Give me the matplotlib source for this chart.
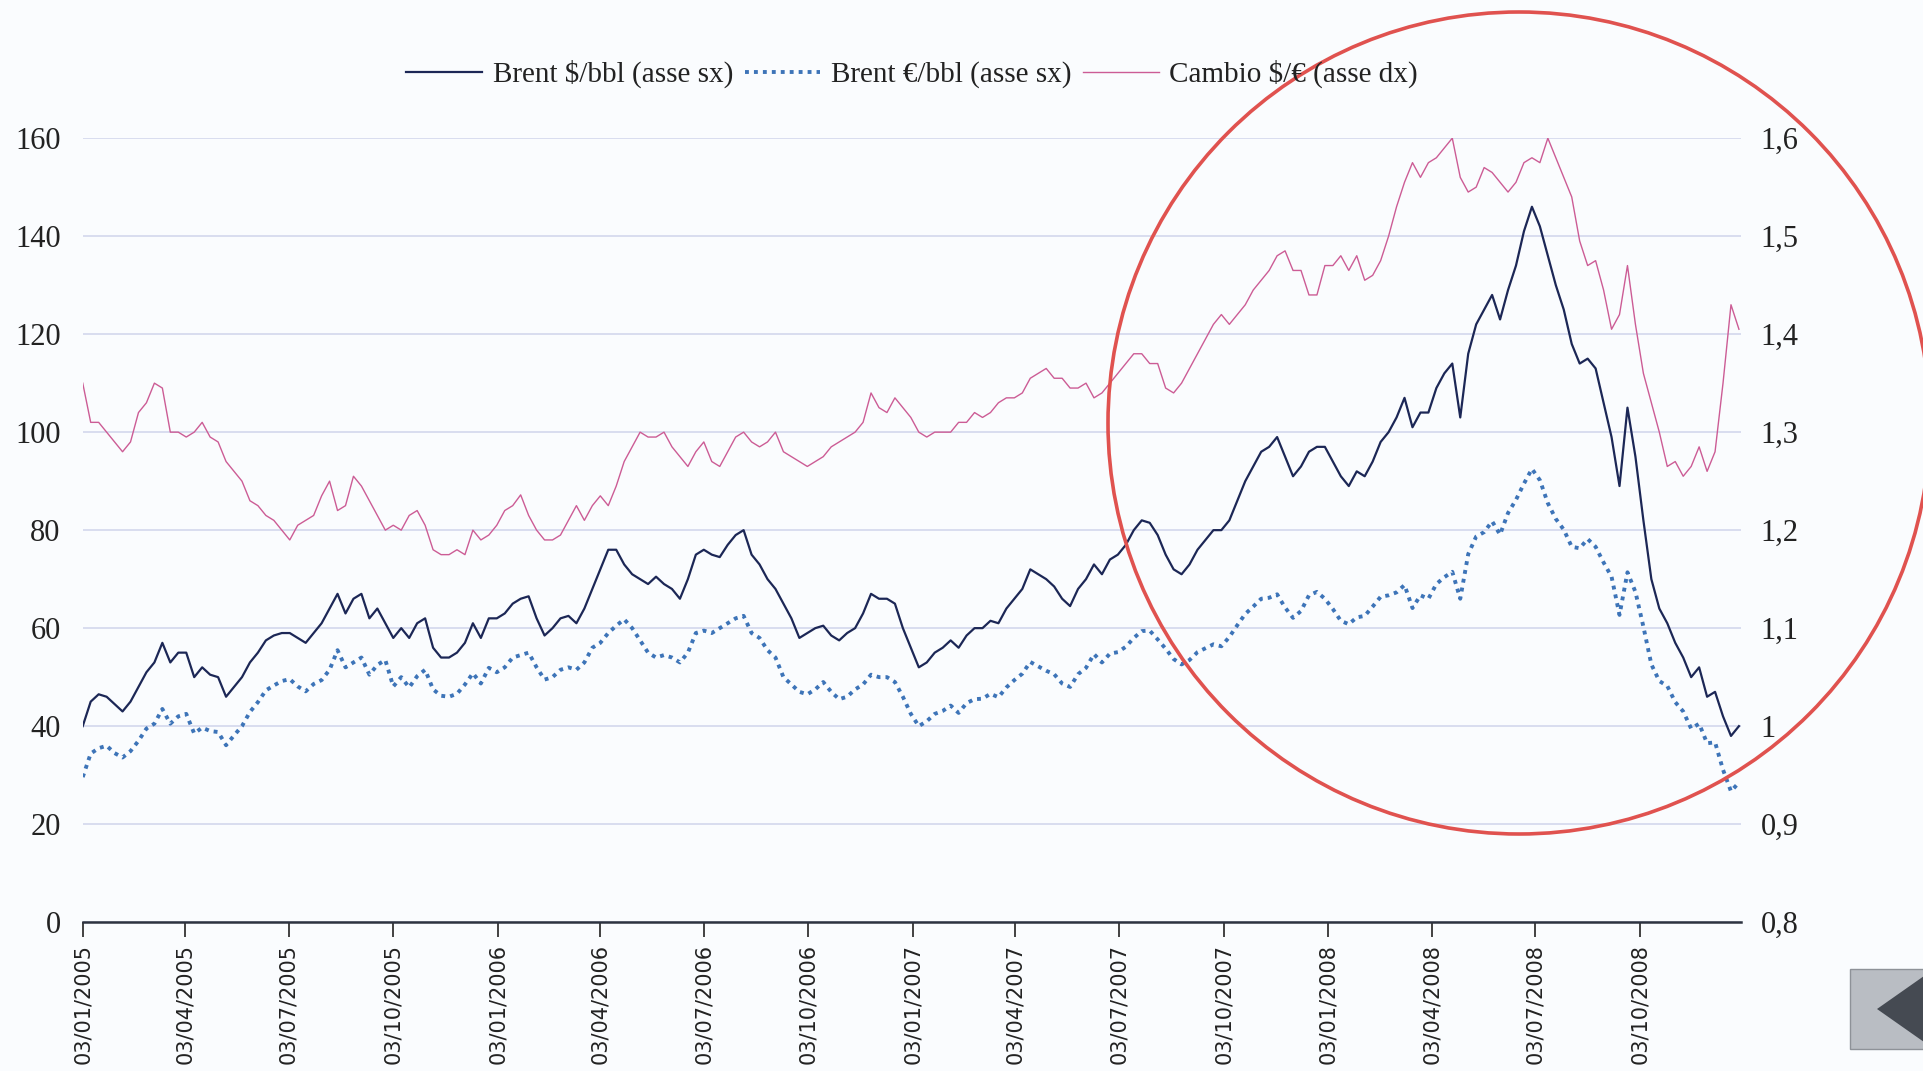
import matplotlib
matplotlib.use("Agg")
import matplotlib.pyplot as plt
from matplotlib.patches import Ellipse, Rectangle, Polygon
import pandas as pd

# dati settimanali (lunedi), dal 03/01/2005
brent_usd = [
    # 2005
    40, 45, 46.5, 46, 44.5, 43, 45, 48, 51, 53, 57, 53, 55,
    55, 50, 52, 50.5, 50, 46, 48, 50, 53, 55, 57.5, 58.5, 59,
    59, 58, 57, 59, 61, 64, 67, 63, 66, 67, 62, 64, 61,
    58, 60, 58, 61, 62, 56, 54, 54, 55, 57, 61, 58, 62,
    # 2006
    62, 63, 65, 66, 66.5, 62, 58.5, 60, 62, 62.5, 61, 64, 68,
    72, 76, 76, 73, 71, 70, 69, 70.5, 69, 68, 66, 70, 75,
    76, 75, 74.5, 77, 79, 80, 75, 73, 70, 68, 65, 62, 58,
    59, 60, 60.5, 58.5, 57.5, 59, 60, 63, 67, 66, 66, 65, 60,
    # 2007
    56, 52, 53, 55, 56, 57.5, 56, 58.5, 60, 60, 61.5, 61, 64,
    66, 68, 72, 71, 70, 68.5, 66, 64.5, 68, 70, 73, 71, 74,
    75, 77, 80, 82, 81.5, 79, 75, 72, 71, 73, 76, 78, 80,
    80, 82, 86, 90, 93, 96, 97, 99, 95, 91, 93, 96, 97,
    # 2008
    97, 94, 91, 89, 92, 91, 94, 98, 100, 103, 107, 101, 104,
    104, 109, 112, 114, 103, 116, 122, 125, 128, 123, 129, 134, 141,
    146, 142, 136, 130, 125, 118, 114, 115, 113, 106, 99, 89, 105,
    95, 82, 70, 64, 61, 57, 54, 50, 52, 46, 47, 42, 38, 40,
]

brent_eur = [
    # 2005
    29.6, 34.4, 35.5, 36, 34.5, 33.6, 34.9, 37, 39.5, 40.5, 43.5, 40.5, 42,
    42.5, 38.5, 39.7, 39, 38.8, 36.1, 38.1, 40, 42.9, 44.9, 47.3, 48.3, 49.2,
    49.6, 48.1, 47.1, 48.6, 49.4, 51.5, 55.5, 52, 53, 54, 50.5, 52.5, 53.5,
    48.1, 50, 47.9, 50.2, 51.5, 47.5, 46.2, 46, 46.6, 48.5, 50.8, 48.7, 51.9,
    # 2006
    51, 52, 54, 54.5, 55, 52, 49.5, 50, 51.5, 52, 51.5, 53, 56,
    57, 59, 60.5, 61.8, 60, 57.5, 55, 54, 54.5, 54, 53, 55, 59,
    59.5, 59, 60, 61, 62, 62.5, 59, 58, 55.5, 54, 50, 48.5, 47,
    46.5, 47.5, 49, 47, 45.5, 46, 47.5, 48.5, 50.5, 50, 50, 49, 46,
    # 2007
    42.5, 40, 41, 42.5, 43.1, 44.2, 42.7, 44.7, 45.5, 45.6, 46.6, 45.9, 47.9,
    49.4, 50.7, 53.1, 52.2, 51.3, 50.6, 48.7, 48, 50.6, 51.9, 54.7, 53, 54.8,
    55.1, 56.2, 58, 59.4, 59.5, 57.7, 55.8, 53.7, 52.6, 53.5, 55.1, 55.9, 56.7,
    56.3, 58.2, 60.6, 62.9, 64.4, 66, 66.2, 66.9, 64.2, 62.1, 63.5, 66.7, 67.4,
    # 2008
    66, 63.9, 61.5, 60.8, 62.2, 62.5, 64.4, 66.4, 66.7, 67.3, 68.8, 64.1, 66.7,
    66, 69, 70.4, 71.5, 66, 75.1, 78.7, 79.6, 81.8, 79.1, 83.5, 86.2, 89.5,
    92.5, 90.2, 85.5, 82.3, 80.1, 76.6, 76.3, 78.2, 76.6, 73.4, 70.5, 62.7, 71.4,
    67.4, 60.3, 52.6, 49.2, 48.2, 44.9, 43, 39.5, 40.5, 36.5, 36.7, 31.1, 26.7, 28.5,
]

cambio = [
    # 2005
    1.35, 1.31, 1.31, 1.30, 1.29, 1.28, 1.29, 1.32, 1.33, 1.35, 1.345, 1.30, 1.30,
    1.295, 1.30, 1.31, 1.295, 1.29, 1.27, 1.26, 1.25, 1.23, 1.225, 1.215, 1.21, 1.20,
    1.19, 1.205, 1.21, 1.215, 1.235, 1.25, 1.22, 1.225, 1.255, 1.245, 1.23, 1.215, 1.20,
    1.205, 1.20, 1.215, 1.22, 1.205, 1.18, 1.175, 1.175, 1.18, 1.175, 1.20, 1.19, 1.195,
    # 2006
    1.205, 1.22, 1.225, 1.236, 1.215, 1.20, 1.19, 1.19, 1.195, 1.21, 1.225, 1.21, 1.225,
    1.235, 1.225, 1.245, 1.27, 1.285, 1.30, 1.295, 1.295, 1.30, 1.285, 1.275, 1.265, 1.28,
    1.29, 1.27, 1.265, 1.28, 1.295, 1.30, 1.29, 1.285, 1.29, 1.30, 1.28, 1.275, 1.27,
    1.265, 1.27, 1.275, 1.285, 1.29, 1.295, 1.30, 1.31, 1.34, 1.325, 1.32, 1.335, 1.325,
    # 2007
    1.315, 1.30, 1.295, 1.30, 1.30, 1.30, 1.31, 1.31, 1.32, 1.315, 1.32, 1.33, 1.335,
    1.335, 1.34, 1.355, 1.36, 1.365, 1.355, 1.355, 1.345, 1.345, 1.35, 1.335, 1.34, 1.35,
    1.36, 1.37, 1.38, 1.38, 1.37, 1.37, 1.345, 1.34, 1.35, 1.365, 1.38, 1.395, 1.41,
    1.42, 1.41, 1.42, 1.43, 1.445, 1.455, 1.465, 1.48, 1.485, 1.465, 1.465, 1.44, 1.44,
    # 2008
    1.47, 1.47, 1.48, 1.465, 1.48, 1.455, 1.46, 1.475, 1.50, 1.53, 1.555, 1.575, 1.56,
    1.575, 1.58, 1.59, 1.60, 1.56, 1.545, 1.55, 1.57, 1.565, 1.555, 1.545, 1.555, 1.575,
    1.58, 1.575, 1.60, 1.58, 1.56, 1.54, 1.495, 1.47, 1.475, 1.445, 1.405, 1.42, 1.47,
    1.41, 1.36, 1.33, 1.30, 1.265, 1.27, 1.255, 1.265, 1.285, 1.26, 1.28, 1.35, 1.43, 1.405,
]

tick_dates = ['2005-01-03', '2005-04-03', '2005-07-03', '2005-10-03',
              '2006-01-03', '2006-04-03', '2006-07-03', '2006-10-03',
              '2007-01-03', '2007-04-03', '2007-07-03', '2007-10-03',
              '2008-01-03', '2008-04-03', '2008-07-03', '2008-10-03']
left_ticks = [0, 20, 40, 60, 80, 100, 120, 140, 160]
right_ticks = [0.8, 0.9, 1.0, 1.1, 1.2, 1.3, 1.4, 1.5, 1.6]
right_labels = ['0,8', '0,9', '1', '1,1', '1,2', '1,3', '1,4', '1,5', '1,6']
series_names = ['Brent $/bbl (asse sx)', 'Brent €/bbl (asse sx)', 'Cambio $/€ (asse dx)']

dates = pd.date_range('2005-01-03', periods=len(brent_usd), freq='7D')
ticks = pd.to_datetime(tick_dates)

plt.rcParams['font.family'] = ['Liberation Serif', 'DejaVu Serif']
bg = '#fafcfe'
txt = '#222222'

fig = plt.figure(figsize=(19.24, 10.71), dpi=100, facecolor=bg)
ax = fig.add_axes([0.043, 0.139, 0.862, 0.732])
ax.set_facecolor(bg)
ax2 = ax.twinx()

l1, = ax.plot(dates, brent_usd, color='#1c2756', lw=1.6, zorder=3)
l2, = ax.plot(dates, brent_eur, color='#3d74b8', lw=2.8, linestyle=(0, (1, 1.3)), zorder=3)
l3, = ax2.plot(dates, cambio, color='#cc5c95', lw=1.0)

ax.set_xlim(pd.Timestamp('2005-01-03'), pd.Timestamp('2008-12-31'))
ax.set_ylim(0, 160)
ax2.set_ylim(0.8, 1.6)

ax.set_yticks(left_ticks)
ax.set_yticklabels([str(v) for v in left_ticks], fontsize=22, color=txt)
ax2.set_yticks(right_ticks)
ax2.set_yticklabels(right_labels, fontsize=22, color=txt)
ax.tick_params(axis='y', length=0, pad=16)
ax2.tick_params(axis='y', length=0, pad=14)

ax.set_xticks(ticks)
ax.set_xticklabels([d.strftime('%d/%m/%Y') for d in ticks], rotation=90,
                   fontsize=15, family=['DejaVu Sans'], color=txt)
ax.tick_params(axis='x', length=11, width=1.3, color='#333333', pad=5)

ax.yaxis.grid(True, color='#d3d7ec', lw=1.2)
ax.set_axisbelow(True)
for s in ['top', 'left', 'right']:
    ax.spines[s].set_visible(False)
for s in ax2.spines.values():
    s.set_visible(False)
ax.spines['bottom'].set_color('#2d3340')
ax.spines['bottom'].set_linewidth(1.8)

fig.legend([l1, l2, l3], series_names, loc='center', bbox_to_anchor=(0.474, 0.931),
           ncol=3, frameon=False, fontsize=21, handlelength=2.6, handletextpad=0.35,
           columnspacing=0.4, labelcolor=txt)

# cerchio rosso disegnato a mano sulla slide
W, H = 1924, 1071
fig.add_artist(Ellipse((1519 / W, 1 - 423 / H), 822 / W, 822 / H, angle=0,
                       transform=fig.transFigure, fill=False, color='#e0524f', lw=2.6))

# pulsante grigio in basso a destra
fig.add_artist(Rectangle((1850 / W, 1 - 1049 / H), 74 / W, 80 / H, transform=fig.transFigure,
                         facecolor='#b9bdc3', edgecolor='#8e9298', lw=1))
fig.add_artist(Polygon([(1877 / W, 1 - 1009 / H), (1924 / W, 1 - 976 / H), (1924 / W, 1 - 1042 / H)],
                       closed=True, transform=fig.transFigure, facecolor='#454a52', edgecolor='none'))

fig.savefig('out.png', dpi=100, facecolor=bg)
